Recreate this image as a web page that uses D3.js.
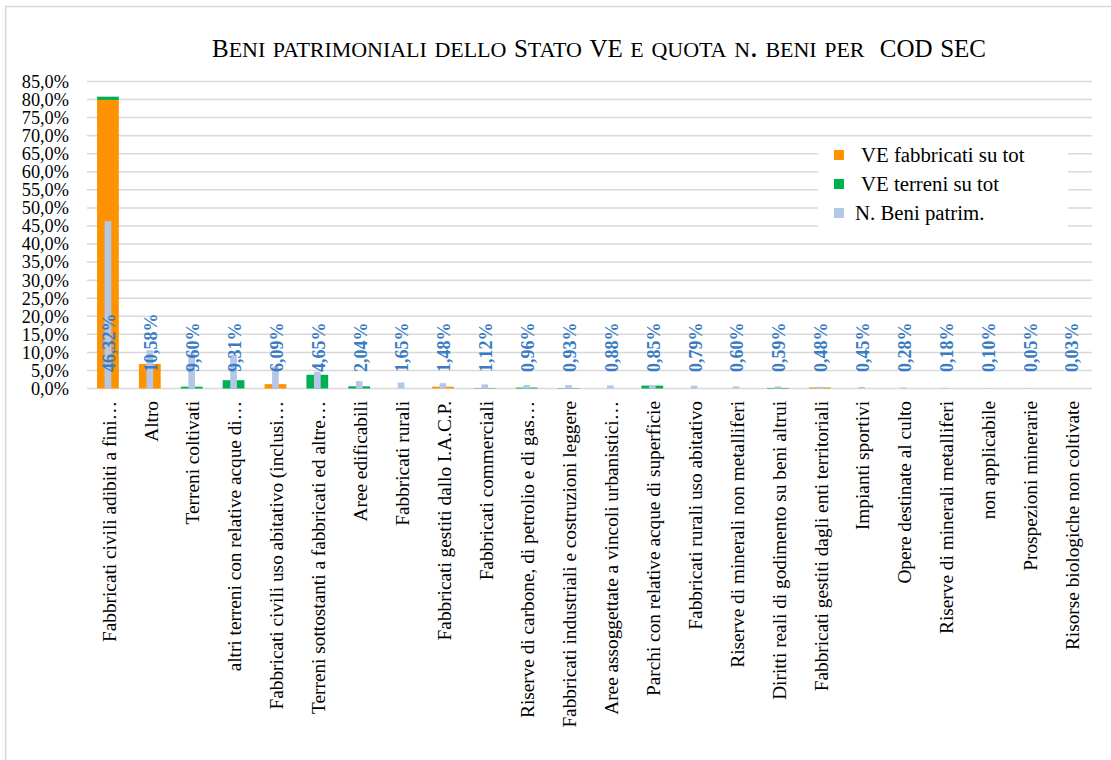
<!DOCTYPE html>
<html>
<head>
<meta charset="utf-8">
<script src="https://cdn.jsdelivr.net/npm/d3@7"></script>
<style>
  html, body { margin: 0; padding: 0; background: #fff; }
  svg { display: block; font-family: "Liberation Serif", "Times New Roman", serif; }
</style>
</head>
<body>
<svg id="chart" width="1111" height="760"></svg>
<script>
const categories = [
  "Fabbricati civili adibiti a fini…",
  "Altro",
  "Terreni coltivati",
  "altri terreni con relative acque di…",
  "Fabbricati civili uso abitativo (inclusi…",
  "Terreni sottostanti a fabbricati ed altre…",
  "Aree edificabili",
  "Fabbricati rurali",
  "Fabbricati gestiti dallo I.A.C.P.",
  "Fabbricati commerciali",
  "Riserve di carbone, di petrolio e di gas…",
  "Fabbricati industriali e costruzioni leggere",
  "Aree assoggettate a vincoli urbanistici…",
  "Parchi con relative acque di superficie",
  "Fabbricati rurali uso abitativo",
  "Riserve di minerali non metalliferi",
  "Diritti reali di godimento su beni altrui",
  "Fabbricati gestiti dagli enti territoriali",
  "Impianti sportivi",
  "Opere destinate al culto",
  "Riserve di minerali metalliferi",
  "non applicabile",
  "Prospezioni minerarie",
  "Risorse biologiche non coltivate"
];
// % values
const veFabbricati = [79.9, 6.8, 0, 0, 1.2, 0, 0, 0, 0.5, 0, 0, 0, 0, 0, 0, 0, 0, 0.25, 0, 0, 0, 0, 0, 0];
const veTerreni    = [0.9, 0, 0.5, 2.3, 0, 3.8, 0.6, 0, 0, 0.1, 0.25, 0.1, 0, 0.8, 0, 0, 0.15, 0.05, 0, 0, 0, 0, 0, 0];
const nBeni        = [46.32, 10.58, 9.60, 9.31, 6.09, 4.65, 2.04, 1.65, 1.48, 1.12, 0.96, 0.93, 0.88, 0.85, 0.79, 0.60, 0.59, 0.48, 0.45, 0.28, 0.18, 0.10, 0.05, 0.03];
const yTicks = [0, 5, 10, 15, 20, 25, 30, 35, 40, 45, 50, 55, 60, 65, 70, 75, 80, 85];
const seriesNames = ["VE fabbricati su tot", "VE terreni su tot", "N. Beni patrim."];
const titleText = "Beni patrimoniali dello Stato VE e quota n. beni per  COD SEC";

const colors = { fabb: "#FF9200", terr: "#00B050", beni: "#B4C7E7", label: "#3A7CC3", grid: "#D9D9D9" };

const svg = d3.select("#chart");

// chart area border
svg.append("rect").attr("x", 5.7).attr("y", 6.5).attr("width", 1300).attr("height", 1000)
  .attr("fill", "#fff").attr("stroke", "#D9D9D9").attr("stroke-width", 1.6);

const plotLeft = 87, plotRight = 1092, plotTop = 81.5, plotBottom = 388.5;

const x = d3.scaleBand().domain(categories).range([plotLeft, plotRight]).paddingInner(0).paddingOuter(0);
const y = d3.scaleLinear().domain([0, 85]).range([plotBottom, plotTop]);

const fmt = v => d3.format(".1f")(v).replace(".", ",") + "%";
const fmt2 = v => d3.format(".2f")(v).replace(".", ",") + "%";

// gridlines
svg.append("g").selectAll("line").data(yTicks).join("line")
  .attr("x1", plotLeft).attr("x2", plotRight)
  .attr("y1", d => y(d)).attr("y2", d => y(d))
  .attr("stroke", colors.grid).attr("stroke-width", 1.5);

// y axis labels
const yAxis = d3.axisLeft(y).tickValues(yTicks).tickFormat(fmt).tickSize(0).tickPadding(0);
const gy = svg.append("g").attr("transform", `translate(69,0)`).call(yAxis);
gy.select(".domain").remove();
gy.selectAll("text").attr("font-family", "Liberation Serif").attr("font-size", 18.3).attr("fill", "#000");

// stacked bars
const bw = x.bandwidth() * 0.52;
const stackData = categories.map((c, i) => ({ c, fabb: veFabbricati[i], terr: veTerreni[i] }));
const stack = d3.stack().keys(["fabb", "terr"])(stackData);
svg.append("g").selectAll("g").data(stack).join("g")
  .attr("fill", d => colors[d.key])
  .selectAll("rect").data(d => d).join("rect")
  .attr("x", d => x(d.data.c) + (x.bandwidth() - bw) / 2)
  .attr("width", bw)
  .attr("y", d => y(d[1]))
  .attr("height", d => Math.max(0, y(d[0]) - y(d[1])));

// N. beni bars (thin)
const bw2 = x.bandwidth() * 0.16;
svg.append("g").selectAll("rect").data(nBeni).join("rect")
  .attr("x", (d, i) => x(categories[i]) + (x.bandwidth() - bw2) / 2)
  .attr("width", bw2)
  .attr("y", d => y(d))
  .attr("height", d => y(0) - y(d))
  .attr("fill", colors.beni);

// value labels (inside base)
svg.append("g").selectAll("text").data(nBeni).join("text")
  .attr("transform", (d, i) => `translate(${x(categories[i]) + x.bandwidth() / 2 + 1},372) rotate(-90)`)
  .attr("text-anchor", "start").attr("dy", "0.35em")
  .attr("font-family", "Liberation Serif").attr("font-weight", "bold").attr("font-size", 18)
  .attr("fill", colors.label)
  .text(d => fmt2(d));

// category labels
svg.append("g").selectAll("text").data(categories).join("text")
  .attr("transform", d => `translate(${x(d) + x.bandwidth() / 2 + 1},401) rotate(-90)`)
  .attr("text-anchor", "end").attr("dy", "0.35em")
  .attr("font-family", "Liberation Serif").attr("font-size", 19.3).attr("fill", "#000")
  .text(d => d);

// legend
const lg = svg.append("g");
lg.append("rect").attr("x", 818).attr("y", 140).attr("width", 250).attr("height", 90).attr("fill", "#fff");
const legendColors = [colors.fabb, colors.terr, colors.beni];
const legendY = [155, 184, 213];
const legendTextX = [861, 861, 855];
seriesNames.forEach((n, i) => {
  lg.append("rect").attr("x", 834).attr("y", legendY[i] - 5).attr("width", 10).attr("height", 10).attr("fill", legendColors[i]);
  lg.append("text").attr("x", legendTextX[i]).attr("y", legendY[i]).attr("dy", "0.35em")
    .attr("font-family", "Liberation Serif").attr("font-size", 20.8).attr("fill", "#000").text(n);
});

// title (small caps: capitals at full size, lower-case as larger synthesized small caps)
const runs = [];
for (const ch of titleText) {
  const isLower = ch !== ch.toUpperCase() || ch === " " || ch === ".";
  const last = runs[runs.length - 1];
  if (last && last.lower === isLower) last.t += ch; else runs.push({ t: ch, lower: isLower });
}
const title = svg.append("text").attr("x", 212).attr("y", 57).attr("text-anchor", "start")
  .attr("font-family", "Liberation Serif")
  .attr("textLength", 774).attr("lengthAdjust", "spacing")
  .style("white-space", "pre").attr("fill", "#000");
title.selectAll("tspan").data(runs).join("tspan")
  .style("font-size", d => d.lower ? "31px" : "25px")
  .style("font-variant", d => d.lower ? "small-caps" : "normal")
  .text(d => d.t);
</script>
</body>
</html>
